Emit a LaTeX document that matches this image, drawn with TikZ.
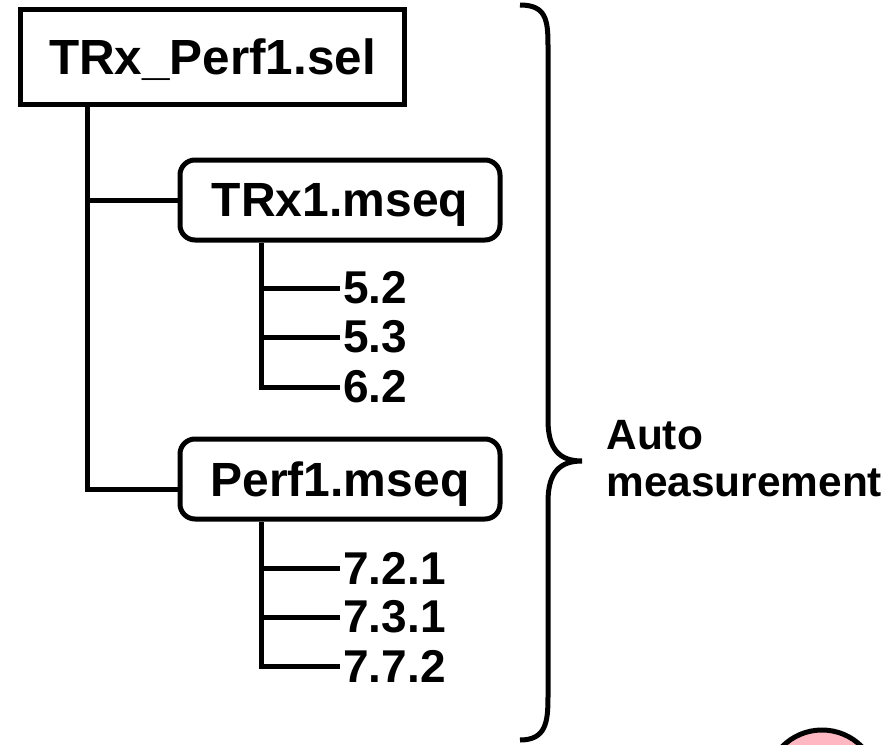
\documentclass[tikz,border=0pt]{standalone}
\usepackage{fontspec}
\setmainfont{Liberation Sans}
\usetikzlibrary{positioning, calc}
\definecolor{markpink}{RGB}{255,184,194}
\tikzset{
    filebox/.style={
        rectangle,
        draw=black,
        line width=2.5pt,
        fill=white,
        minimum width=192pt,
        minimum height=47.5pt,
        text depth=0pt,
        inner sep=0pt,
        font=\fontsize{24.7}{28}\selectfont\bfseries
    },
    seqbox/.style={
        rectangle,
        rounded corners=7.5pt,
        draw=black,
        line width=2.5pt,
        fill=white,
        minimum width=160pt,
        minimum height=40pt,
        text depth=0pt,
        inner sep=0pt,
        font=\fontsize{24}{28}\selectfont\bfseries
    },
    leaf/.style={
        anchor=west,
        inner sep=1.5pt,
        font=\fontsize{23}{26}\selectfont\bfseries
    },
    tree/.style={
        line width=2.5pt
    },
    bracelabel/.style={
        anchor=west,
        align=left,
        inner sep=0pt,
        font=\fontsize{21.2}{23.5}\selectfont\bfseries
    }
}

\begin{document}
\begin{tikzpicture}[x=0.5pt, y=-0.5pt]

    % Frame
    \useasboundingbox (0,0) rectangle (891,745);

    % Files
    \node[filebox] (sel) at (212.5,57) {TRx\_Perf1.sel};
    \node[seqbox] (trx) at (340,200) {TRx1.mseq};
    \node[seqbox] (perf) at (340,479) {Perf1.mseq};

    % Test cases
    \node[leaf] (l52) at (340,288) {5.2};
    \node[leaf] (l53) at (340,337) {5.3};
    \node[leaf] (l62) at (340,387) {6.2};
    \node[leaf] (l721) at (340,568) {7.2.1};
    \node[leaf] (l731) at (340,617) {7.3.1};
    \node[leaf] (l772) at (340,666) {7.7.2};

    % Stems
    \coordinate (trunk) at (87,0);
    \coordinate (stemA) at (261,0);
    \coordinate (stemB) at (261,0);

    % Tree lines
    \draw[tree] (sel.south -| trunk) |- ([yshift=-5pt]perf.west);
    \draw[tree] (trunk |- trx.west) -- (trx.west);

    \draw[tree] (trx.south -| stemA) |- (l62.west);
    \draw[tree] (stemA |- l52.west) -- (l52.west);
    \draw[tree] (stemA |- l53.west) -- (l53.west);

    \draw[tree] (perf.south -| stemB) |- (l772.west);
    \draw[tree] (stemB |- l721.west) -- (l721.west);
    \draw[tree] (stemB |- l731.west) -- (l731.west);

    % Brace
    \draw[tree] (520,5) .. controls (546,5) and (548,20) .. (548,45)
        -- (548,420) .. controls (548,450) and (560,461) .. (582,461)
        .. controls (560,461) and (548,472) .. (548,502)
        -- (548,697) .. controls (548,722) and (546,740) .. (520,740);
    \node[bracelabel] (auto) at (606,459) {Auto\\measurement};

    % Marker
    \begin{scope}
        \clip (0,0) rectangle (891,745);
        \draw[tree, fill=markpink] (822,786) circle[radius=56];
    \end{scope}

\end{tikzpicture}
\end{document}
